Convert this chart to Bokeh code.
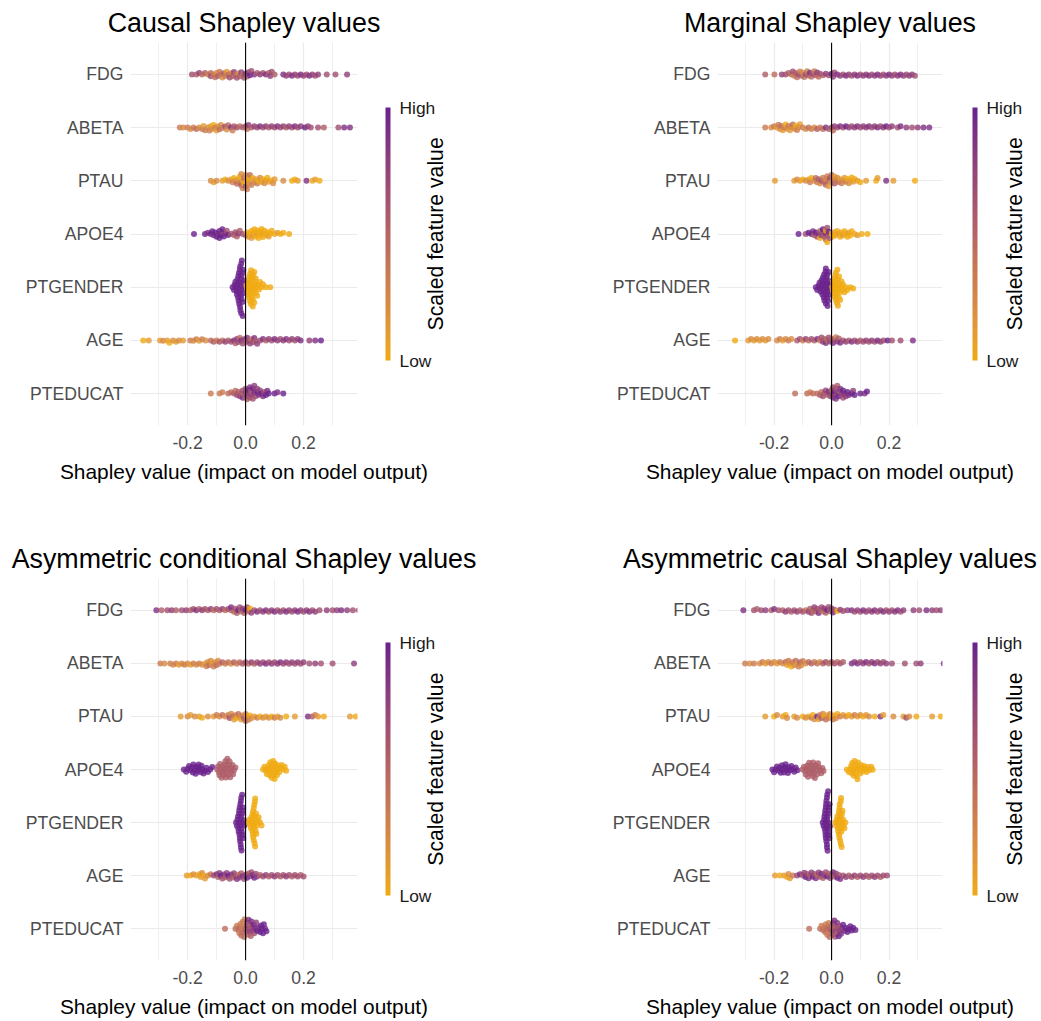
import numpy as np
from bokeh.plotting import figure
from bokeh.models import (Range1d, FixedTicker, Span, ColorBar, LinearColorMapper,
                          LinearAxis, ColumnDataSource, NumeralTickFormatter)
from bokeh.layouts import gridplot
from bokeh.embed import file_html
from bokeh.resources import INLINE

# ---------------------------------------------------------------- labels
FEATURES = ["FDG", "ABETA", "PTAU", "APOE4", "PTGENDER", "AGE", "PTEDUCAT"]  # top -> bottom
PANEL_TITLES = ["Causal Shapley values", "Marginal Shapley values",
                "Asymmetric conditional Shapley values", "Asymmetric causal Shapley values"]
X_TICKS = [-0.2, 0.0, 0.2]
X_MINOR_TICKS = [-0.3, -0.1, 0.1, 0.3]
X_LABEL = "Shapley value (impact on model output)"
LEGEND_TITLE = "Scaled feature value"
LEGEND_LOW = "Low"
LEGEND_HIGH = "High"
LOW_COLOR = "#F0AA12"
HIGH_COLOR = "#6A228C"

# ---------------------------------------------------------------- data
# (Shapley value in units of 0.01, scaled feature value on a 0..9 scale)
CAU_FDG = [(-18.5,6),(-17,5),(-16,7),(-15,4),(-14,5),(-13,3),(-12,4),(-12,6),(-11,3),(-10.5,4),(-10,2),(-9.5,5),(-9,3),(-8.5,4),(-8,2),(-7.5,5),(-7,3),(-6.5,1),(-6,4),(-5.5,6),(-5,3),(-4.5,5),(-4,7),(-3.5,4),(-3,6),(-2.5,2),(-2,5),(-1.5,7),(-1,4),(-0.5,6),(0,8),(0.5,5),(1,7),(1.5,9),(2,6),(3,8),(4,5),(5,7),(6,6),(7,8),(8,5),(8.5,7),(9,6),(10,5),(13,8),(14,7),(15,6),(16,8),(17,7),(18,6),(19,8),(20,7),(21,6),(22,8),(23,7),(24,6),(25,7),(28,6),(31,6),(35,7)]
CAU_ABETA = [(-22.7,3),(-21.5,2),(-20,3),(-19,2),(-18,3),(-17,4),(-16,2),(-15,3),(-14.5,1),(-14,3),(-13,2),(-12.5,3),(-12,1),(-11.5,2),(-11,0),(-10.5,3),(-10,1),(-9.5,2),(-9,4),(-8.5,2),(-8,3),(-7,6),(-6.5,2),(-6,4),(-5,8),(-4.5,3),(-4,5),(-3,6),(-2,4),(-1,5),(0,6),(0.5,4),(1,7),(2,5),(3,7),(4,6),(5,8),(6,6),(7,7),(8,5),(9,7),(10,6),(11,8),(12,6),(13,7),(14,5),(15,7),(16,6),(17,8),(18,6),(19,7),(20.5,9),(21.5,7),(22.5,6),(25,6),(27,5),(32,6),(34,8),(36,8)]
CAU_PTAU = [(-12,2),(-11,1),(-10,2),(-8,1),(-7,0),(-6,2),(-5,1),(-4.5,3),(-4,0),(-3.5,2),(-3,4),(-2.5,1),(-2,3),(-2,0),(-1.5,5),(-1.5,2),(-1,1),(-1,3),(-0.5,4),(-0.5,0),(0,2),(0,6),(0.5,1),(0.5,3),(1,0),(1,2),(1.5,4),(2,1),(2,3),(2.5,0),(3,2),(3.5,1),(4,3),(4.5,0),(5,2),(5.5,1),(6,0),(6.5,2),(7,1),(7.5,0),(8,1),(9,0),(9.5,2),(10,1),(13,2),(16,0),(17,0),(18,1),(21,8),(23,0),(24,1),(25.5,0)]
CAU_APOE4 = [(-17.8,9),(-14,9),(-13,8),(-12,9),(-11.5,9),(-11,8),(-10.5,9),(-10,9),(-9.5,8),(-9,9),(-9,9),(-8.5,9),(-8,7),(-8,9),(-7.5,9),(-7,8),(-6.5,6),(-6,9),(-5,6),(-4,5),(-3.5,6),(-3,5),(-2.5,7),(-2,5),(-1,6),(0,5),(0.5,0),(1,1),(1.5,0),(2,0),(2,1),(2.5,1),(3,0),(3,0),(3.5,0),(4,1),(4,0),(4.5,0),(5,0),(5,0),(5.5,0),(6,1),(6,0),(6.5,0),(7,0),(7.5,0),(8,1),(8.5,0),(9,0),(10,0),(11,1),(12,0),(13,0),(15,0)]
CAU_PTGENDER = [(-4.5,9),(-4,9),(-3.8,9),(-3.5,9),(-3.2,9),(-3,9),(-3,9),(-2.8,9),(-2.7,9),(-2.6,9),(-2.5,9),(-2.4,9),(-2.3,9),(-2.2,9),(-2.2,9),(-2,9),(-2,9),(-2,9),(-1.9,9),(-1.9,9),(-1.8,9),(-1.7,9),(-1.6,9),(-1.6,9),(-1.5,9),(-1.5,9),(-1.4,9),(-1.4,9),(-1.3,9),(-1.2,9),(-1.1,9),(-1.1,9),(-1,9),(-1,9),(-0.9,9),(-0.8,9),(-0.6,9),(-0.5,9),
                (0.3,0),(0.5,0),(0.7,0),(1,0),(1,0),(1.1,0),(1.2,0),(1.3,0),(1.5,0),(1.5,0),(1.6,0),(1.7,0),(1.8,0),(1.9,0),(2,0),(2,0),(2.1,0),(2.2,0),(2.3,0),(2.5,0),(2.5,0),(2.6,0),(2.7,0),(2.8,0),(3,0),(3,0),(3.2,0),(3.3,0),(3.5,0),(3.5,0),(3.8,0),(4,0),(4.3,0),(4.6,0),(5,0),(5.5,0),(6,0),(7,0),(8.5,0)]
CAU_AGE = [(-35.3,0),(-33.4,1),(-29.5,1),(-28.4,2),(-27,1),(-26.3,0),(-25,2),(-24,1),(-23,2),(-21.6,1),(-19.1,3),(-18,2),(-17,3),(-16,1),(-15,3),(-13.8,2),(-12,4),(-11,5),(-10,3),(-9,6),(-8,4),(-7,7),(-6,5),(-5,6),(-4,8),(-3.5,5),(-3,7),(-2.5,6),(-2,4),(-1.5,8),(-1,6),(-0.5,7),(0,5),(0.5,8),(1,6),(1.5,7),(2,4),(2.5,6),(3,8),(3.5,5),(4,7),(5,6),(6,8),(7,5),(8,7),(9,6),(10,8),(11,7),(12,6),(13,7),(14,8),(15,6),(16,7),(17,6),(18,7),(19,8),(22,7),(24,8),(26,9)]
CAU_PTEDUCAT = [(-12,3),(-9,3),(-8,3),(-6,4),(-5,4),(-4,5),(-3.5,4),(-3,6),(-2.5,5),(-2,7),(-1.5,5),(-1,6),(-1,8),(-0.5,5),(0,7),(0,6),(0.5,8),(0.5,5),(1,7),(1,9),(1.5,6),(1.5,8),(2,7),(2,5),(2.5,9),(2.5,6),(3,8),(3,7),(3.5,6),(4,9),(4,7),(4.5,8),(5,7),(5.5,9),(6,8),(6.5,6),(7,9),(7.5,8),(8,9),(10,9),(11,8),(13,9)]

MAR_FDG = [(-23.1,5),(-19.9,4),(-17.3,7),(-16,6),(-15,5),(-14,4),(-13.5,6),(-13,3),(-12.5,5),(-12,4),(-11.5,6),(-11,3),(-10.5,5),(-10,2),(-9.5,4),(-9,6),(-8.5,3),(-8,5),(-7.5,8),(-7,4),(-6.5,6),(-6,3),(-5.5,5),(-5,7),(-4.5,4),(-4,6),(-3,5),(-2,7),(-1,6),(0,9),(0.5,7),(1,6),(2,8),(3,7),(4,6),(5,8),(6,7),(7,6),(8,7),(9,8),(10,6),(11,7),(12,7),(13,8),(14,6),(15,7),(16,8),(17,7),(18,6),(19,7),(20,8),(21,7),(22,6),(23,7),(24,8),(25,7),(26,6),(27,7),(28,7),(29,6)]
MAR_ABETA = [(-23.1,3),(-21,2),(-20,3),(-19,1),(-18.5,3),(-18,2),(-17.5,4),(-17,1),(-16.5,3),(-16,0),(-15.5,2),(-15,3),(-14.5,1),(-14,2),(-13.5,4),(-13,2),(-12.5,0),(-12,3),(-11.5,2),(-11,1),(-10,3),(-9,2),(-8,4),(-7,3),(-6,2),(-5,5),(-4,3),(-3,4),(-2,8),(-1,5),(0,6),(0.5,4),(1,7),(2,6),(3,8),(4,6),(5,9),(6,7),(7,6),(8,7),(9,8),(10,6),(11,7),(12,7),(13,8),(14,6),(15,7),(16,8),(17,6),(18,7),(19,9),(20,6),(21,7),(23,6),(24,8),(26,7),(28,6),(30,7),(32,8),(34,8)]
MAR_PTAU = [(-19.7,1),(-13,1),(-12,2),(-11,1),(-10,0),(-9,2),(-8,1),(-7.5,3),(-7,0),(-6,2),(-5.5,4),(-5,3),(-4.5,5),(-4,2),(-3.5,6),(-3,3),(-2.5,4),(-2,2),(-2,5),(-1.5,3),(-1,4),(-1,1),(-0.5,6),(0,2),(0,4),(0.5,3),(1,5),(1,1),(1.5,3),(2,2),(2.5,4),(3,1),(3.5,3),(4,2),(4.5,1),(5,3),(5.5,0),(6,2),(6.5,1),(7,0),(7.5,1),(8,0),(9,1),(10,0),(12,1),(15.5,0),(16,1),(19,8),(21.5,1),(29,0)]
MAR_APOE4 = [(-11.5,9),(-9,6),(-8,9),(-7,9),(-6.5,8),(-6,5),(-5.5,9),(-5,6),(-4.5,8),(-4,5),(-4,0),(-3.5,7),(-3,6),(-3,9),(-2.5,5),(-2,8),(-2,0),(-2,5),(-1.5,6),(-1.5,0),(-1,5),(-1,9),(-0.5,6),(0,0),(0.5,0),(1,1),(1.5,0),(2,0),(2.5,1),(3,0),(3.5,0),(4,1),(4.5,0),(5,0),(5.5,0),(6,1),(6.5,0),(7,0),(8,0),(9,1),(10.5,0),(12.5,0)]
MAR_PTGENDER = [(-5.5,9),(-5,9),(-4.5,9),(-4.2,9),(-4,9),(-3.8,9),(-3.5,9),(-3.3,9),(-3.2,9),(-3,9),(-3,9),(-2.8,9),(-2.7,9),(-2.6,9),(-2.5,9),(-2.4,9),(-2.3,9),(-2.2,9),(-2.1,9),(-2,9),(-2,9),(-1.9,9),(-1.8,9),(-1.7,9),(-1.6,9),(-1.5,9),(-1.5,9),(-1.4,9),(-1.3,9),(-1.2,9),(-1.1,9),(-1,9),(-1,9),(-0.8,9),(-0.6,9),(-0.4,9),
                (0.2,0),(0.4,0),(0.5,0),(0.8,0),(1,0),(1,0),(1.1,0),(1.2,0),(1.3,0),(1.5,0),(1.5,0),(1.6,0),(1.7,0),(1.8,0),(1.9,0),(2,0),(2,0),(2.1,0),(2.2,0),(2.4,0),(2.5,0),(2.6,0),(2.7,0),(3,0),(3,0),(3.2,0),(3.5,0),(3.8,0),(4,0),(4.5,0),(5,0),(5.5,0),(6.5,0),(7.5,0)]
MAR_AGE = [(-33.6,0),(-29,1),(-28,2),(-27,1),(-26,2),(-25,1),(-24,2),(-23,1),(-22,2),(-19,2),(-18,3),(-17,1),(-16,2),(-15,3),(-14,2),(-12,5),(-11,6),(-10,3),(-9,7),(-8,4),(-7,6),(-6,5),(-5,8),(-4,3),(-3.5,6),(-3,7),(-2.5,5),(-2,8),(-1.5,4),(-1,6),(-0.5,7),(0,5),(0.5,8),(1,6),(1.5,3),(2,7),(2.5,5),(3,8),(4,6),(5,7),(6,5),(7,8),(8,6),(9,7),(10,5),(11,6),(12,7),(13,6),(14,7),(15,6),(16,8),(17,7),(18,6),(19.5,9),(21,6),(24,6),(28.3,8)]
MAR_PTEDUCAT = [(-12.7,4),(-8.5,4),(-7.5,3),(-6.5,4),(-5,4),(-4,5),(-3.5,4),(-3,6),(-2.5,5),(-2,7),(-1.5,5),(-1,8),(-0.5,6),(0,7),(0,5),(0.5,8),(0.5,6),(1,7),(1,9),(1.5,6),(1.5,8),(2,7),(2,5),(2.5,9),(3,6),(3,8),(3.5,7),(4,9),(4,6),(4.5,8),(5,7),(5.5,9),(6,8),(7,9),(7.5,7),(8,9),(10,9),(11.5,8),(12.3,9)]

ACO_FDG = [(-30.8,8),(-29,5),(-27,6),(-25.5,7),(-24,5),(-22,6),(-20.5,7),(-19,5),(-18,6),(-17,8),(-16,5),(-15,7),(-14,6),(-13,5),(-12,7),(-11,4),(-10,6),(-9,5),(-8,7),(-7,4),(-6,6),(-5,5),(-5,8),(-4,4),(-3.5,6),(-3,5),(-2.5,9),(-2,6),(-1.5,4),(-1,7),(-0.5,5),(0,9),(0.5,6),(1,4),(1.5,0),(2,7),(3,6),(4,8),(5,6),(6,7),(7,8),(8,6),(9,7),(10,8),(11,6),(12,7),(13,6),(14,8),(15,7),(16,6),(17,7),(18,8),(19,7),(20,6),(21,7),(22,8),(23,6),(24,7),(25.5,6),(28,7),(30,6),(31.5,7),(33,8),(35,7),(37,6),(39,6)]
ACO_ABETA = [(-29.4,3),(-28,2),(-26,3),(-25,2),(-24,3),(-23,1),(-22,2),(-21,3),(-20,2),(-19,1),(-18,3),(-17,2),(-16,3),(-15,2),(-14,1),(-13.5,3),(-13,2),(-12.5,4),(-12,2),(-11.5,1),(-11,3),(-10.5,2),(-10,4),(-9.5,2),(-9,3),(-8,5),(-7,3),(-6,4),(-5,2),(-4,5),(-3,3),(-2,4),(-1,5),(0,6),(1,4),(2,7),(3,5),(4,6),(5,7),(6,6),(7,8),(8,6),(9,7),(10,6),(11,7),(12,8),(13,6),(14,7),(15,6),(16,7),(17,6),(18,7),(19,6),(20,7),(22,6),(24,7),(26,6),(30,6),(37.4,7)]
ACO_PTAU = [(-22.4,1),(-20,2),(-19,1),(-17.5,2),(-16,1),(-15,0),(-13,2),(-11,1),(-10,3),(-9,2),(-8,4),(-7,2),(-6,3),(-5.5,6),(-5,2),(-4.5,4),(-4,1),(-3.5,3),(-3,0),(-2.5,4),(-2,2),(-1.5,1),(-1,3),(-0.5,5),(0,2),(0,4),(0.5,1),(1,3),(1.5,0),(2,2),(3,1),(4,3),(5,0),(6,2),(7,1),(8,2),(9,0),(10,3),(11,1),(12,2),(14,0),(17,1),(21.5,8),(23,5),(24,3),(25,1),(27,0),(36,1),(38,0),(39.8,1)]
ACO_APOE4 = [(-21.3,9),(-20.5,9),(-20,9),(-19.5,9),(-19,9),(-18.5,9),(-18.2,9),(-18,9),(-17.5,9),(-17.2,9),(-17,9),(-16.5,9),(-16.2,9),(-16,9),(-15.5,9),(-15.2,9),(-15,9),(-14.5,9),(-14,9),(-13.5,9),(-13,9),(-12.2,9),(-11.5,9),
             (-9.8,5),(-9.5,5),(-9.2,5),(-9,5),(-8.8,5),(-8.5,5),(-8.3,5),(-8,5),(-7.8,5),(-7.5,5),(-7.3,5),(-7.2,5),(-7,5),(-6.8,5),(-6.7,5),(-6.5,5),(-6.3,5),(-6,5),(-5.8,5),(-5.7,5),(-5.5,5),(-5.3,5),(-5,5),(-4.8,5),(-4.5,5),(-4.3,5),(-4,5),(-3.5,5),
             (6,0),(6.5,0),(7,0),(7.3,0),(7.6,0),(8,0),(8.2,0),(8.3,0),(8.5,0),(8.8,0),(9,0),(9.2,0),(9.3,0),(9.5,0),(9.7,0),(9.8,0),(10,0),(10.2,0),(10.3,0),(10.5,0),(10.8,0),(11,0),(11.3,0),(11.6,0),(12,0),(12.5,0),(13,0),(13.5,0),(14,0)]
ACO_PTGENDER = [(-3.3,9),(-3,9),(-2.8,9),(-2.6,9),(-2.5,9),(-2.4,9),(-2.3,9),(-2.2,9),(-2.2,9),(-2.1,9),(-2,9),(-2,9),(-1.9,9),(-1.8,9),(-1.8,9),(-1.7,9),(-1.7,9),(-1.6,9),(-1.6,9),(-1.5,9),(-1.5,9),(-1.4,9),(-1.4,9),(-1.3,9),(-1.2,9),(-1.2,9),(-1.1,9),(-1,9),(-1,9),(-0.9,9),(-0.8,9),(-0.6,9),(-0.4,9),
                (0.8,0),(1.3,0),(1.6,0),(1.8,0),(2,0),(2.2,0),(2.3,0),(2.4,0),(2.5,0),(2.6,0),(2.6,0),(2.7,0),(2.8,0),(2.8,0),(2.9,0),(3,0),(3,0),(3.1,0),(3.2,0),(3.2,0),(3.3,0),(3.3,0),(3.4,0),(3.5,0),(3.6,0),(3.7,0),(3.9,0),(4.2,0),(4.5,0),(5,0),(5.5,0)]
ACO_AGE = [(-20.3,1),(-19,0),(-18,2),(-17,1),(-16,0),(-15.5,1),(-15,2),(-14.5,0),(-14,1),(-13,2),(-12,3),(-11,6),(-10,8),(-9.5,5),(-9,7),(-8.5,9),(-8,6),(-7.5,8),(-7,5),(-6.5,7),(-6,9),(-5.5,6),(-5,8),(-4.5,5),(-4,7),(-3.5,6),(-3,8),(-2.5,4),(-2,7),(-1.5,5),(-1,8),(-0.5,6),(0,7),(0.5,9),(1,5),(1.5,7),(2,6),(2.5,8),(3,9),(3.5,6),(4,7),(5,5),(6,6),(7,7),(8,5),(9,6),(10,7),(11,6),(12,5),(13,6),(14,7),(15,6),(16,5),(17,6),(18,6),(19,5),(20,6)]
ACO_PTEDUCAT = [(-7.1,4),(-3.5,4),(-3,3),(-2.5,4),(-2.2,3),(-2,4),(-1.8,3),(-1.5,4),(-1.2,3),(-1,4),(-1,3),(-0.8,3),(-0.5,4),(-0.3,3),(0,5),(0.3,6),(0.5,7),(0.5,6),(0.8,5),(1,8),(1.2,6),(1.5,7),(1.5,5),(1.8,5),(2,8),(2.2,6),(2.5,7),(2.8,9),(3,6),(3.3,8),(3.6,7),(4,9),(4.5,8),(5,9),(5.3,9),(5.6,9),(6,9),(6.3,9),(6.7,9),(7.2,9)]

ACA_FDG = [(-30.7,8),(-27,6),(-26,5),(-24.5,6),(-23,7),(-21,5),(-20,8),(-18.5,6),(-17,5),(-16,7),(-15,6),(-14,5),(-13,6),(-12,7),(-11,5),(-10,6),(-9,4),(-8,7),(-7.5,5),(-7,6),(-6.5,4),(-6,7),(-5.5,5),(-5,6),(-4.5,8),(-4,5),(-3.5,6),(-3,4),(-2.5,7),(-2,5),(-1.5,9),(-1,6),(-0.5,5),(0,7),(0.5,8),(1,6),(2,0),(3,7),(4,6),(5.5,7),(7,8),(8,6),(9,7),(10,6),(11,8),(12,7),(13,6),(14,7),(15,8),(16,6),(17,7),(18,8),(19,6),(20,7),(21,6),(22,7),(23,8),(24,6),(25,7),(28.5,7),(30.5,6),(33,8),(35,7),(36.5,6),(38,7),(39.7,6)]
ACA_ABETA = [(-30.1,3),(-28.5,2),(-27,3),(-25,2),(-24,3),(-23,1),(-22,2),(-21,3),(-20,2),(-19,1),(-18,3),(-17,2),(-16,4),(-15.5,1),(-15,3),(-14.5,2),(-14,0),(-13.5,3),(-13,2),(-12.5,4),(-12,1),(-11.5,3),(-11,5),(-10.5,2),(-10,3),(-9,2),(-8,4),(-7,5),(-6,3),(-5,4),(-4,2),(-3,5),(-2,6),(-1,4),(0,5),(1,6),(2,4),(3,6),(4,5),(7,8),(8,7),(9,8),(10,6),(11,7),(12,8),(13,6),(14,7),(15,8),(16,6),(17,7),(18,6),(19,7),(21,6),(25.5,6),(29.5,6),(31,7),(39,8)]
ACA_PTAU = [(-23.1,1),(-20,0),(-19,2),(-17,1),(-16,0),(-15.5,2),(-13,1),(-12,2),(-10,0),(-9,2),(-8,1),(-7,3),(-6.5,0),(-6,2),(-5,9),(-4.5,1),(-4,3),(-3.5,5),(-3,2),(-2.5,0),(-2,4),(-1.5,1),(-1,3),(-0.5,2),(0,0),(0.5,3),(1,1),(1.5,2),(2,0),(3,3),(4,1),(5,2),(6,0),(7,1),(8,3),(9,1),(10,2),(11,0),(12,1),(13,2),(15,0),(17,8),(18,1),(21.5,2),(25,1),(26,6),(27,2),(29.5,0),(35,1),(38,0)]
ACA_APOE4 = [(-20.6,9),(-20,9),(-19.5,9),(-19,9),(-18.5,9),(-18,9),(-17.7,9),(-17.3,9),(-17,9),(-16.6,9),(-16.2,9),(-16,9),(-15.6,9),(-15.2,9),(-15,9),(-14.5,9),(-14,9),(-13.5,9),(-13,9),(-12.5,9),(-11.9,9),
             (-10.1,5),(-9.6,5),(-9.2,5),(-9,5),(-8.7,5),(-8.4,5),(-8.2,5),(-8,5),(-7.8,5),(-7.5,5),(-7.3,5),(-7,5),(-6.8,5),(-6.6,5),(-6.4,5),(-6.2,5),(-6,5),(-5.8,5),(-5.5,5),(-5.2,5),(-5,5),(-4.7,5),(-4.4,5),(-4,5),(-3.6,5),(-3.2,5),(-2.8,5),
             (5.3,0),(6,0),(6.5,0),(6.8,0),(7,0),(7.2,0),(7.5,0),(7.7,0),(7.8,0),(8,0),(8.2,0),(8.5,0),(8.7,0),(8.8,0),(9,0),(9.2,0),(9.5,0),(9.8,0),(10,0),(10.3,0),(10.6,0),(11,0),(11.4,0),(11.8,0),(12.2,0),(12.7,0),(13.2,0),(13.8,0),(14.3,0)]
ACA_PTGENDER = [(-3.1,9),(-2.8,9),(-2.6,9),(-2.5,9),(-2.4,9),(-2.3,9),(-2.2,9),(-2.2,9),(-2.1,9),(-2,9),(-2,9),(-2,9),(-1.9,9),(-1.8,9),(-1.8,9),(-1.7,9),(-1.6,9),(-1.6,9),(-1.6,9),(-1.5,9),(-1.5,9),(-1.4,9),(-1.4,9),(-1.3,9),(-1.2,9),(-1.2,9),(-1.1,9),(-1,9),(-1,9),(-0.9,9),(-0.9,9),(-0.8,9),(-0.7,9),(-0.6,9),
                (1.3,0),(1.6,0),(1.8,0),(2,0),(2.2,0),(2.3,0),(2.4,0),(2.5,0),(2.6,0),(2.6,0),(2.7,0),(2.8,0),(2.8,0),(2.9,0),(3,0),(3,0),(3.1,0),(3.2,0),(3.2,0),(3.3,0),(3.3,0),(3.4,0),(3.5,0),(3.6,0),(3.6,0),(3.8,0),(4,0),(4.2,0),(4.5,0),(4.8,0)]
ACA_AGE = [(-19.7,1),(-18,0),(-16.5,1),(-15.5,0),(-15,2),(-14.5,1),(-13.5,3),(-12,6),(-11,8),(-10,5),(-9.5,7),(-9,9),(-8.5,6),(-8,8),(-7.5,5),(-7,7),(-6.5,9),(-6,6),(-5.5,8),(-5,4),(-4.5,7),(-4,6),(-3.5,8),(-3,5),(-2.5,7),(-2,6),(-1.5,9),(-1,5),(-0.5,7),(0,6),(0.5,8),(1,5),(1.5,7),(2,9),(2.5,6),(3,8),(4,6),(5,7),(6,5),(7,6),(8,7),(9,5),(10,6),(11,7),(12,6),(13,5),(14,6),(15,7),(16,6),(17,5),(18,6),(19.3,6)]
ACA_PTEDUCAT = [(-7.8,4),(-4,4),(-3.5,3),(-3,4),(-2.5,3),(-2.2,4),(-2,3),(-1.7,4),(-1.5,3),(-1.2,4),(-1,3),(-1,3),(-0.7,4),(-0.5,5),(0,4),(0.3,6),(0.5,7),(0.5,6),(0.8,5),(1,8),(1.2,6),(1.5,7),(1.5,5),(1.8,5),(2,8),(2.2,6),(2.5,9),(2.8,7),(3,6),(3.3,8),(3.6,7),(4,9),(4.5,8),(5,9),(5.5,9),(6,9),(6.5,9),(7,9),(7.5,9),(8.3,9)]

PANELS = [
    [CAU_FDG, CAU_ABETA, CAU_PTAU, CAU_APOE4, CAU_PTGENDER, CAU_AGE, CAU_PTEDUCAT],
    [MAR_FDG, MAR_ABETA, MAR_PTAU, MAR_APOE4, MAR_PTGENDER, MAR_AGE, MAR_PTEDUCAT],
    [ACO_FDG, ACO_ABETA, ACO_PTAU, ACO_APOE4, ACO_PTGENDER, ACO_AGE, ACO_PTEDUCAT],
    [ACA_FDG, ACA_ABETA, ACA_PTAU, ACA_APOE4, ACA_PTGENDER, ACA_AGE, ACA_PTEDUCAT],
]

# ---------------------------------------------------------------- style
FONT = "Liberation Sans"
X_LO, X_HI = -0.397, 0.386
Y_LO, Y_HI = 0.4, 7.6
FRAME_W, FRAME_H = 227, 383
PX_PER_X = FRAME_W / (X_HI - X_LO)
PX_PER_Y = FRAME_H / (Y_HI - Y_LO)
DOT = 6
SWARM_D = 3.2
# legend title is drawn as a rotated tick label that starts at this y and runs upward
LEGEND_TITLE_Y = round((Y_LO + Y_HI) / 2 - 96.5 / PX_PER_Y, 3)

M_RGB2XYZ = np.array([[0.4124564, 0.3575761, 0.1804375],
                      [0.2126729, 0.7151522, 0.0721750],
                      [0.0193339, 0.1191920, 0.9503041]])
WHITE = np.array([0.95047, 1.0, 1.08883])


def _to_lab(hexc):
    c = np.array([int(hexc[i:i + 2], 16) for i in (1, 3, 5)]) / 255.0
    c = np.where(c <= 0.04045, c / 12.92, ((c + 0.055) / 1.055) ** 2.4)
    xyz = M_RGB2XYZ @ c / WHITE
    f = np.where(xyz > 0.008856, np.cbrt(xyz), 7.787 * xyz + 16 / 116)
    return np.array([116 * f[1] - 16, 500 * (f[0] - f[1]), 200 * (f[1] - f[2])])


def _from_lab(lab):
    L, a, b = lab
    fy = (L + 16) / 116
    f = np.array([fy + a / 500, fy, fy - b / 200])
    xyz = np.where(f ** 3 > 0.008856, f ** 3, (f - 16 / 116) / 7.787) * WHITE
    c = np.clip(np.linalg.inv(M_RGB2XYZ) @ xyz, 0, 1)
    c = np.where(c <= 0.0031308, 12.92 * c, 1.055 * c ** (1 / 2.4) - 0.055)
    return "#%02x%02x%02x" % tuple(int(round(v * 255)) for v in c)


_lo, _hi = _to_lab(LOW_COLOR), _to_lab(HIGH_COLOR)
PALETTE = [_from_lab(_lo + (_hi - _lo) * t) for t in np.linspace(0, 1, 256)]


def swarm(xs_px, d):
    n = len(xs_px)
    order = sorted(range(n), key=lambda i: xs_px[i])
    px_list, py_list = [], []
    out = [0.0] * n
    for k, i in enumerate(order):
        x = xs_px[i]
        nb = [(px, py) for px, py in zip(px_list, py_list) if abs(px - x) < d]
        cands = [0.0]
        for px, py in nb:
            dy = (d * d - (px - x) ** 2) ** 0.5
            cands += [py + dy, py - dy]
        sgn = 1 if k % 2 == 0 else -1
        cands.sort(key=lambda c: (round(abs(c), 6), -sgn * c))
        chosen = 0.0
        for c in cands:
            if all((px - x) ** 2 + (py - c) ** 2 >= d * d - 1e-6 for px, py in nb):
                chosen = c
                break
        px_list.append(x)
        py_list.append(chosen)
        out[i] = chosen
    return out


def make_panel(title, rows, left_b, right_b, fig_h, top_b, bottom_b, legend_standoff):
    p = figure(width=left_b + FRAME_W + right_b, height=fig_h,
               x_range=Range1d(X_LO, X_HI), y_range=Range1d(Y_LO, Y_HI),
               output_backend="svg", toolbar_location=None,
               min_border_left=left_b, min_border_right=right_b,
               min_border_top=top_b, min_border_bottom=bottom_b)
    p.outline_line_color = None
    p.background_fill_color = "white"
    p.border_fill_color = "white"

    p.title.text = title
    p.title.align = "center"
    p.title.text_font = FONT
    p.title.text_font_size = "26.8px"
    p.title.text_font_style = "normal"
    p.title.text_color = "black"
    p.title.standoff = 10

    # axes
    p.xaxis.ticker = FixedTicker(ticks=X_TICKS)
    p.xaxis.formatter = NumeralTickFormatter(format="0.0")
    p.xaxis.axis_label = X_LABEL
    p.xaxis.axis_label_text_font = FONT
    p.xaxis.axis_label_text_font_size = "20.9px"
    p.xaxis.axis_label_text_font_style = "normal"
    p.xaxis.axis_label_text_color = "black"
    p.xaxis.axis_label_standoff = 8
    p.xaxis.major_label_standoff = 10
    p.xaxis.major_label_text_font = FONT
    p.xaxis.major_label_text_font_size = "17.6px"
    p.xaxis.major_label_text_color = "#4D4D4D"

    p.yaxis.ticker = FixedTicker(ticks=[1, 2, 3, 4, 5, 6, 7])
    p.yaxis.major_label_overrides = {7 - i: f for i, f in enumerate(FEATURES)}
    p.yaxis.major_label_standoff = 7
    p.yaxis.major_label_text_font = FONT
    p.yaxis.major_label_text_font_size = "17.6px"
    p.yaxis.major_label_text_color = "#4D4D4D"

    for ax in (p.xaxis, p.yaxis):
        ax.axis_line_color = None
        ax.major_tick_line_color = None
        ax.minor_tick_line_color = None
        ax.major_tick_out = 0
        ax.major_tick_in = 0

    # grid
    p.xgrid.ticker = FixedTicker(ticks=X_TICKS, minor_ticks=X_MINOR_TICKS)
    p.xgrid.grid_line_color = "#EBEBEB"
    p.xgrid.grid_line_width = 1.2
    p.xgrid.minor_grid_line_color = "#EBEBEB"
    p.xgrid.minor_grid_line_width = 0.8
    p.ygrid.ticker = FixedTicker(ticks=[1, 2, 3, 4, 5, 6, 7])
    p.ygrid.grid_line_color = "#EBEBEB"
    p.ygrid.grid_line_width = 1.2

    # points
    xs, ys, cols = [], [], []
    for i, row in enumerate(rows):
        level = 7 - i
        vals = [v / 100.0 for v, _ in row]
        offs = swarm([v * PX_PER_X for v in vals], SWARM_D)
        for (v, c), x, o in zip(row, vals, offs):
            xs.append(x)
            ys.append(level + o / PX_PER_Y)
            cols.append(PALETTE[int(round(c / 9 * 255))])
    src = ColumnDataSource(dict(x=xs, y=ys, color=cols))
    p.scatter("x", "y", source=src, size=DOT, fill_color="color", fill_alpha=0.8, line_color=None)

    p.add_layout(Span(location=0, dimension="height", line_color="black", line_width=1.1))

    # legend (colour bar)
    mapper = LinearColorMapper(palette=PALETTE, low=0, high=1)
    cb = ColorBar(color_mapper=mapper, orientation="vertical", width=5, height=253,
                  location=(255, 65), padding=0, margin=0,
                  ticker=FixedTicker(ticks=[0, 1]),
                  major_label_overrides={0: LEGEND_LOW, 1: LEGEND_HIGH},
                  major_label_text_font=FONT, major_label_text_font_size="17.4px",
                  major_label_text_color="#1A1A1A", label_standoff=9,
                  major_tick_line_color=None, minor_tick_line_color=None,
                  bar_line_color=None, border_line_color=None, background_fill_alpha=0)
    p.add_layout(cb)

    # legend title: a bare right-hand axis whose single tick label is rotated
    lax = LinearAxis(ticker=FixedTicker(ticks=[LEGEND_TITLE_Y]),
                     major_label_overrides={LEGEND_TITLE_Y: LEGEND_TITLE},
                     major_label_orientation=np.pi / 2, major_label_standoff=legend_standoff,
                     major_label_text_font=FONT, major_label_text_font_size="21.2px",
                     major_label_text_color="black",
                     axis_line_color=None, major_tick_line_color=None, minor_tick_line_color=None,
                     major_tick_out=0, major_tick_in=0)
    p.add_layout(lax, "right")
    return p


p1 = make_panel(PANEL_TITLES[0], PANELS[0], 130, 238, 500, 42, 75, 78)
p2 = make_panel(PANEL_TITLES[1], PANELS[1], 122, 96, 500, 42, 75, 72)
p3 = make_panel(PANEL_TITLES[2], PANELS[2], 130, 238, 520, 78, 59, 78)
p4 = make_panel(PANEL_TITLES[3], PANELS[3], 122, 96, 520, 78, 59, 72)

layout = gridplot([[p1, p2], [p3, p4]], toolbar_location=None)
open("out.html", "w").write(file_html(layout, INLINE))
